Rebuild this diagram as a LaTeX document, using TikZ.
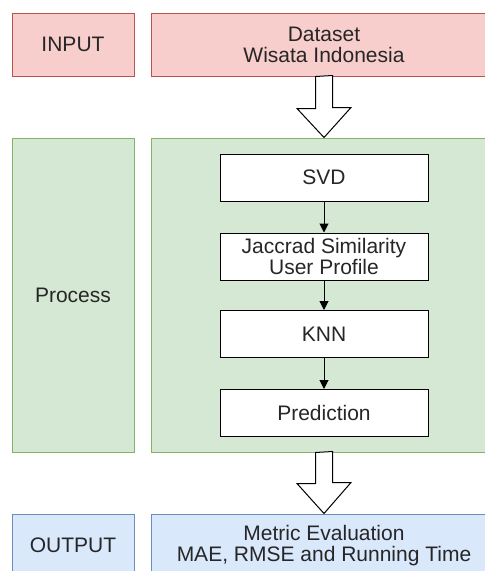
\documentclass[tikz,border=0pt]{standalone}
\usepackage{fontspec}
\setmainfont{Liberation Sans}
\usetikzlibrary{arrows.meta,calc}
\definecolor{redfill}{HTML}{F8CECC}
\definecolor{redline}{HTML}{B85450}
\definecolor{greenfill}{HTML}{D5E8D4}
\definecolor{greenline}{HTML}{82B366}
\definecolor{bluefill}{HTML}{DAE8FC}
\definecolor{blueline}{HTML}{6C8EBF}
\tikzset{
	lane/.style 2 args={rectangle,fill=#1,draw=#2,line width=1pt,align=center,text=black!85,font=\fontsize{21}{21}\selectfont},
	stage/.style={rectangle,draw,fill=white,line width=1pt,minimum width=208pt,minimum height=47pt,inner sep=0pt,align=center,text=black!85,font=\fontsize{21}{21}\selectfont},
	flow/.style={-{Triangle[length=9pt,width=9pt]},line width=1pt},
	bigarrow/.style={draw,fill=white,line width=1pt,line join=miter}
}
\begin{document}
\begin{tikzpicture}[x=1pt,y=-1pt]
	\useasboundingbox (0,0) rectangle (485,571);
	\node [lane={redfill}{redline},minimum width=122pt,minimum height=63pt] (input) at (73,44.5) {INPUT};
	\node [lane={redfill}{redline},minimum width=346pt,minimum height=63pt] (dataset) at (324,44.5) {Dataset\\Wisata Indonesia};
	\node [lane={greenfill}{greenline},minimum width=122pt,minimum height=314pt] (process) at (73,295) {Process};
	\node [lane={greenfill}{greenline},minimum width=346pt,minimum height=314pt] (steps) at (324,295) {};
	\node [lane={bluefill}{blueline},minimum width=122pt,minimum height=63pt] (output) at (73,545.5) {OUTPUT};
	\node [lane={bluefill}{blueline},minimum width=346pt,minimum height=63pt] (metric) at (324,545.5) {Metric Evaluation\\MAE, RMSE and Running Time};

	\node [stage] (svd) at (324,177.5) {SVD};
	\node [stage] (jaccard) at (324,256.5) {Jaccrad Similarity\\User Profile};
	\node [stage] (knn) at (324,334) {KNN};
	\node [stage] (pred) at (324,413) {Prediction};

	\draw [flow] (svd) -- (jaccard);
	\draw [flow] (jaccard) -- (knn);
	\draw [flow] (knn) -- (pred);

	\draw [bigarrow] ($(dataset.south)+(-8.5,0)$) -- ++(0,32) -- ++(-18.5,0) -- (steps.north)
		-- ++(27,-30) -- ++(-18.5,0) -- ++(0,-32) -- cycle;
	\draw [bigarrow] ($(steps.south)+(-8.5,0)$) -- ++(0,31) -- ++(-18.5,0) -- (metric.north)
		-- ++(27,-31) -- ++(-18.5,0) -- ++(0,-31) -- cycle;
\end{tikzpicture}
\end{document}
